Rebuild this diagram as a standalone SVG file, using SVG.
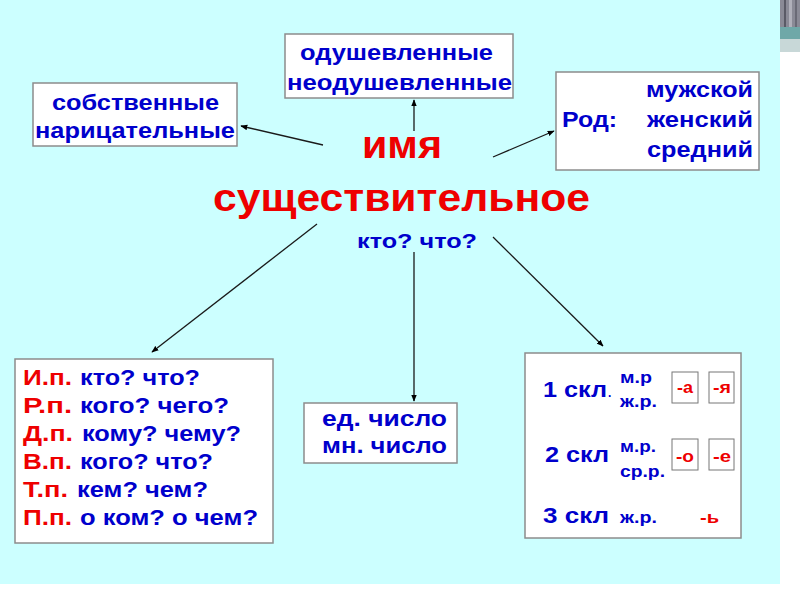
<svg xmlns="http://www.w3.org/2000/svg" width="800" height="600" viewBox="0 0 800 600">
<defs>
<style>
.bx{fill:#fff;stroke:#8c8c8c;stroke-width:1.5}
.sb{fill:#fff;stroke:#777;stroke-width:1}
text{font-family:"Liberation Sans",Arial,sans-serif;font-weight:bold}
.b{fill:#0000cc}
.r{fill:#ee0000}
.t{font-size:22px}
.s{font-size:17px}
.c{stroke:#1a1a1a;stroke-width:1.3;fill:none;marker-end:url(#ah)}
</style>
<marker id="ah" viewBox="0 0 10 10" refX="9" refY="5" markerWidth="7" markerHeight="7" orient="auto" markerUnits="userSpaceOnUse">
<path d="M0,1 L10,5 L0,9 Z" fill="#000"/>
</marker>
</defs>
<rect x="0" y="0" width="800" height="600" fill="#fff"/>
<rect x="0" y="0" width="780" height="584" fill="#ccffff"/>
<g id="corner">
<rect x="780" y="0" width="20" height="27" fill="#8a8a96"/>
<rect x="784" y="0" width="2" height="27" fill="#5a5a66"/>
<rect x="789" y="0" width="3" height="27" fill="#b0b0ba"/>
<rect x="795" y="0" width="2" height="27" fill="#6a6a76"/>
<rect x="780" y="27" width="20" height="12" fill="#6fa8a8"/>
<rect x="780" y="39" width="20" height="13" fill="#c8d8d8"/>
</g>
<g id="connectors">
<line class="c" x1="414" y1="131" x2="414" y2="100"/>
<line class="c" x1="323" y1="145" x2="241" y2="126"/>
<line class="c" x1="493" y1="157" x2="554" y2="131"/>
<line class="c" x1="317" y1="224" x2="152" y2="352"/>
<line class="c" x1="414" y1="252" x2="414" y2="401"/>
<line class="c" x1="493" y1="237" x2="603" y2="346"/>
</g>
<g id="center">
<text x="362" y="158" class="r" font-size="39" textLength="80" lengthAdjust="spacingAndGlyphs">имя</text>
<text x="213" y="211" class="r" font-size="39" textLength="377" lengthAdjust="spacingAndGlyphs">существительное</text>
<text x="357" y="248" class="b" font-size="21" textLength="120" lengthAdjust="spacingAndGlyphs">кто? что?</text>
</g>
<g id="animacy">
<rect class="bx" x="285" y="34" width="228" height="64"/>
<text x="300" y="60" class="b t" textLength="193" lengthAdjust="spacingAndGlyphs">одушевленные</text>
<text x="287" y="90" class="b t" textLength="225" lengthAdjust="spacingAndGlyphs">неодушевленные</text>
</g>
<g id="proper">
<rect class="bx" x="33" y="83" width="204" height="63"/>
<text x="52" y="110" class="b t" textLength="167" lengthAdjust="spacingAndGlyphs">собственные</text>
<text x="35" y="138" class="b t" textLength="200" lengthAdjust="spacingAndGlyphs">нарицательные</text>
</g>
<g id="gender">
<rect class="bx" x="556" y="72" width="203" height="98"/>
<text x="646" y="97" class="b t" textLength="107" lengthAdjust="spacingAndGlyphs">мужской</text>
<text x="562" y="127" class="b t" textLength="55" lengthAdjust="spacingAndGlyphs">Род:</text>
<text x="647" y="127" class="b t" textLength="106" lengthAdjust="spacingAndGlyphs">женский</text>
<text x="647" y="157" class="b t" textLength="106" lengthAdjust="spacingAndGlyphs">средний</text>
</g>
<g id="cases">
<rect class="bx" x="15" y="359" width="258" height="184"/>
<text x="23" y="385" class="r t" textLength="49" lengthAdjust="spacingAndGlyphs">И.п.</text>
<text x="80" y="385" class="b t" textLength="120" lengthAdjust="spacingAndGlyphs">кто? что?</text>
<text x="23" y="413" class="r t" textLength="49" lengthAdjust="spacingAndGlyphs">Р.п.</text>
<text x="80" y="413" class="b t" textLength="149" lengthAdjust="spacingAndGlyphs">кого? чего?</text>
<text x="23" y="441" class="r t" textLength="50" lengthAdjust="spacingAndGlyphs">Д.п.</text>
<text x="82" y="441" class="b t" textLength="159" lengthAdjust="spacingAndGlyphs">кому? чему?</text>
<text x="23" y="469" class="r t" textLength="49" lengthAdjust="spacingAndGlyphs">В.п.</text>
<text x="80" y="469" class="b t" textLength="133" lengthAdjust="spacingAndGlyphs">кого? что?</text>
<text x="23" y="497" class="r t" textLength="45" lengthAdjust="spacingAndGlyphs">Т.п.</text>
<text x="77" y="497" class="b t" textLength="131" lengthAdjust="spacingAndGlyphs">кем? чем?</text>
<text x="23" y="525" class="r t" textLength="49" lengthAdjust="spacingAndGlyphs">П.п.</text>
<text x="80" y="525" class="b t" textLength="178" lengthAdjust="spacingAndGlyphs">о ком? о чем?</text>
</g>
<g id="number">
<rect class="bx" x="304" y="403" width="153" height="60"/>
<text x="322" y="426" class="b t" textLength="125" lengthAdjust="spacingAndGlyphs">ед. число</text>
<text x="322" y="453" class="b t" textLength="125" lengthAdjust="spacingAndGlyphs">мн. число</text>
</g>
<g id="declension">
<rect class="bx" x="525" y="353" width="216" height="185"/>
<text x="543" y="397" class="b t" textLength="64" lengthAdjust="spacingAndGlyphs">1 скл</text>
<text x="608" y="397" class="b" font-size="12">.</text>
<text x="620" y="383" class="b s" textLength="32" lengthAdjust="spacingAndGlyphs">м.р</text>
<text x="620" y="407" class="b s" textLength="37" lengthAdjust="spacingAndGlyphs">ж.р.</text>
<rect class="sb" x="672" y="372" width="26" height="31"/>
<text x="677" y="393" class="r s" textLength="16" lengthAdjust="spacingAndGlyphs">-а</text>
<rect class="sb" x="709" y="372" width="25" height="31"/>
<text x="713" y="393" class="r s" textLength="18" lengthAdjust="spacingAndGlyphs">-я</text>
<text x="545" y="462" class="b t" textLength="64" lengthAdjust="spacingAndGlyphs">2 скл</text>
<text x="620" y="452" class="b s" textLength="36" lengthAdjust="spacingAndGlyphs">м.р.</text>
<text x="620" y="477" class="b s" textLength="45" lengthAdjust="spacingAndGlyphs">ср.р.</text>
<rect class="sb" x="672" y="439" width="26" height="31"/>
<text x="676" y="462" class="r s" textLength="18" lengthAdjust="spacingAndGlyphs">-о</text>
<rect class="sb" x="709" y="439" width="25" height="31"/>
<text x="713" y="462" class="r s" textLength="18" lengthAdjust="spacingAndGlyphs">-е</text>
<text x="543" y="523" class="b t" textLength="66" lengthAdjust="spacingAndGlyphs">3 скл</text>
<text x="620" y="523" class="b s" textLength="37" lengthAdjust="spacingAndGlyphs">ж.р.</text>
<text x="700" y="523" class="r s" textLength="19" lengthAdjust="spacingAndGlyphs">-ь</text>
</g>
</svg>
